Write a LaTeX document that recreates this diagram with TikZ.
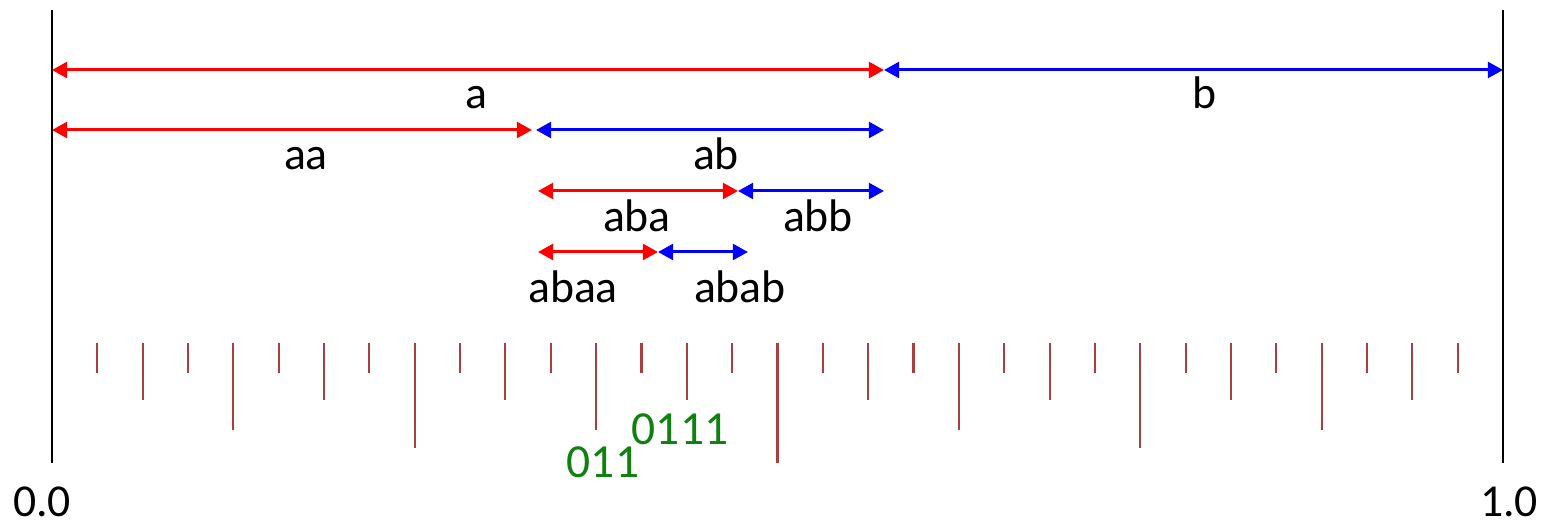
\documentclass[tikz,border=0pt]{standalone}
\usepackage{fontspec}
\setmainfont{Carlito}
\usepackage{xcolor}
\usepackage{tikz}
\usetikzlibrary{arrows.meta}

\definecolor{tickred}{RGB}{168,64,64}
\definecolor{codegreen}{RGB}{16,128,16}

\begin{document}
\begin{tikzpicture}[
  x=0.01cm, y=-0.01cm,
  lbl/.style={anchor=base, inner sep=0pt, font=\fontsize{13}{15}\selectfont},
  code/.style={anchor=base, inner sep=0pt, text=codegreen, font=\fontsize{13.5}{16}\selectfont},
  bound/.style={line width=0.6pt},
  half/.style={line width=0.85pt, {Triangle[length=4.3pt,width=4.5pt]}-{Triangle[length=4.3pt,width=4.5pt]}},
  lefthalf/.style={half, red},
  righthalf/.style={half, blue},
  scaletick/.style={tickred, line width=0.6pt}
]
\useasboundingbox (0,0) rectangle (1547,525);

% ends of the unit interval
\coordinate (top0) at (52,10);
\coordinate (bot0) at (52,463);
\coordinate (top1) at (1503,10);
\coordinate (bot1) at (1503,463);
\draw[bound] (top0) -- (bot0);
\draw[bound] (top1) -- (bot1);
\node[lbl] (zero) at (42,517) {0.0};
\node[lbl] (one) at (1509,517) {1.0};

% level 1
\coordinate (a-l) at (52,70);
\coordinate (a-r) at (884,70);
\coordinate (b-r) at (1503,70);
\draw[lefthalf] (a-l) -- (a-r);
\draw[righthalf] (a-r) -- (b-r);
\node[lbl] (a) at (476,109) {a};
\node[lbl] (b) at (1205,109) {b};

% level 2
\coordinate (aa-l) at (52,130);
\coordinate (aa-r) at (532,130);
\coordinate (ab-l) at (536,130);
\coordinate (ab-r) at (884,130);
\draw[lefthalf] (aa-l) -- (aa-r);
\draw[righthalf] (ab-l) -- (ab-r);
\node[lbl] (aa) at (306,170) {aa};
\node[lbl] (ab) at (716,170) {ab};

% level 3
\coordinate (aba-l) at (538,191);
\coordinate (aba-r) at (738,191);
\coordinate (abb-r) at (884,191);
\draw[lefthalf] (aba-l) -- (aba-r);
\draw[righthalf] (aba-r) -- (abb-r);
\node[lbl] (aba) at (637,232) {aba};
\node[lbl] (abb) at (818,232) {abb};

% level 4
\coordinate (abaa-l) at (538,252);
\coordinate (abaa-r) at (658,252);
\coordinate (abab-r) at (748,252);
\draw[lefthalf] (abaa-l) -- (abaa-r);
\draw[righthalf] (abaa-r) -- (abab-r);
\node[lbl] (abaa) at (573,303) {abaa};
\node[lbl] (abab) at (740,303) {abab};

% dyadic ticks, k/32
\foreach \k in {1,3,...,31}
  \draw[scaletick] ({52+\k*45.34375},343) -- ++(0,30);
\foreach \k in {2,6,...,30}
  \draw[scaletick] ({52+\k*45.34375},343) -- ++(0,57);
\foreach \k in {4,12,20,28}
  \draw[scaletick] ({52+\k*45.34375},343) -- ++(0,87);
\foreach \k in {8,24}
  \draw[scaletick] ({52+\k*45.34375},343) -- ++(0,105);
\draw[scaletick] ({52+16*45.34375},343) -- ++(0,120);

\node[code] (c011) at (603,478) {011};
\node[code] (c0111) at (680,445) {0111};
\end{tikzpicture}
\end{document}
